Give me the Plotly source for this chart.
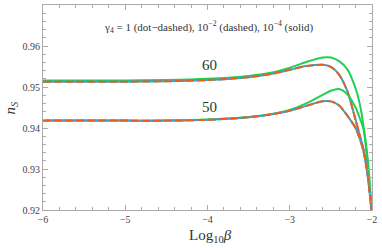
import plotly.graph_objects as go

# Data
log_beta = [-6.0, -5.0, -4.5, -4.0, -3.5, -3.2, -3.0, -2.8, -2.6, -2.5, -2.4,
            -2.3, -2.2, -2.15, -2.1, -2.05, -2.0]

# N = 60
n60_solid = [0.9516, 0.9516, 0.9517, 0.9520, 0.9527, 0.9536, 0.9547, 0.9561,
             0.9572, 0.9572, 0.9563, 0.9543, 0.9497, 0.9460, 0.9400, 0.9305, 0.9190]
n60_dashed = [0.9513, 0.9513, 0.9514, 0.9517, 0.9524, 0.9533, 0.9542, 0.9551,
              0.9554, 0.9549, 0.9530, 0.9490, 0.9420, 0.9383, 0.9345, 0.9285, 0.9185]
n60_dotdashed = list(n60_dashed)

# N = 50
n50_solid = [0.9418, 0.9418, 0.9418, 0.9421, 0.9427, 0.9435, 0.9444, 0.9460,
             0.9481, 0.9491, 0.9495, 0.9482, 0.9450, 0.9425, 0.9395, 0.9320, 0.9190]
n50_dashed = [0.9418, 0.9418, 0.9418, 0.9420, 0.9426, 0.9434, 0.9442, 0.9454,
              0.9465, 0.9465, 0.9455, 0.9430, 0.9400, 0.9375, 0.9340, 0.9280, 0.9185]
n50_dotdashed = list(n50_dashed)

x_ticks = [-6, -5, -4, -3, -2]
y_ticks = [0.92, 0.93, 0.94, 0.95, 0.96, 0.97]

GREEN = "#1fd052"
ORANGE = "#e8611c"
BLUE = "#2aa6e2"
FONT = "Liberation Serif"

fig = go.Figure()

def add(y, color, dash):
    fig.add_trace(go.Scatter(
        x=log_beta, y=y, mode="lines",
        line=dict(color=color, width=2, dash=dash, shape="spline", smoothing=0.8),
        showlegend=False, hoverinfo="skip"))

for dd, dsh, sol in [(n60_dotdashed, n60_dashed, n60_solid),
                     (n50_dotdashed, n50_dashed, n50_solid)]:
    add(sol, GREEN, "solid")
    add(dd, BLUE, "solid")
    add(dsh, ORANGE, "8px,3px")

axis_common = dict(
    showgrid=False, zeroline=False, showline=True, linecolor="#aaaaaa",
    linewidth=1, mirror="allticks", ticks="inside", ticklen=5, tickwidth=1,
    tickcolor="#aaaaaa", tickfont=dict(family=FONT, size=10, color="#444444"),
)

fig.update_xaxes(range=[-6, -2], tickvals=x_ticks,
                 minor=dict(dtick=0.2, ticks="inside", ticklen=3, tickcolor="#aaaaaa"),
                 **axis_common)
fig.update_yaxes(range=[0.92, 0.97], tickvals=y_ticks, tickformat=".2f",
                 minor=dict(dtick=0.002, ticks="inside", ticklen=3, tickcolor="#aaaaaa"),
                 **axis_common)

fig.add_annotation(xref="paper", yref="paper", x=0.505, y=0.893, yanchor="middle",
                   text="γ<sub>4</sub> = 1 (dot−dashed), 10<sup>−2</sup> (dashed), 10<sup>−4</sup> (solid)",
                   showarrow=False, font=dict(family=FONT, size=11, color="#333333"))
fig.add_annotation(xref="paper", yref="paper", x=0.505, y=0.707, yanchor="middle", text="60",
                   showarrow=False, font=dict(family=FONT, size=15, color="#1e3d2c"))
fig.add_annotation(xref="paper", yref="paper", x=0.505, y=0.502, yanchor="middle", text="50",
                   showarrow=False, font=dict(family=FONT, size=15, color="#1e3d2c"))
fig.add_annotation(xref="paper", yref="paper", x=-0.10, y=0.50, xanchor="center",
                   text="<i>n</i><sub><i>S</i></sub>",
                   textangle=-90, showarrow=False,
                   font=dict(family=FONT, size=15, color="#333333"))
fig.add_annotation(xref="paper", yref="paper", x=0.51, y=-0.127, yanchor="middle",
                   text="Log<sub>10</sub><i>β</i>", showarrow=False,
                   font=dict(family=FONT, size=15, color="#333333"))

fig.update_layout(
    width=382, height=248,
    margin=dict(l=43, r=10, t=5, b=38),
    paper_bgcolor="white", plot_bgcolor="white",
)

fig.write_html("out.html", config={"displayModeBar": False},
               post_script="document.body.style.margin='0';document.body.style.overflow='hidden';")
